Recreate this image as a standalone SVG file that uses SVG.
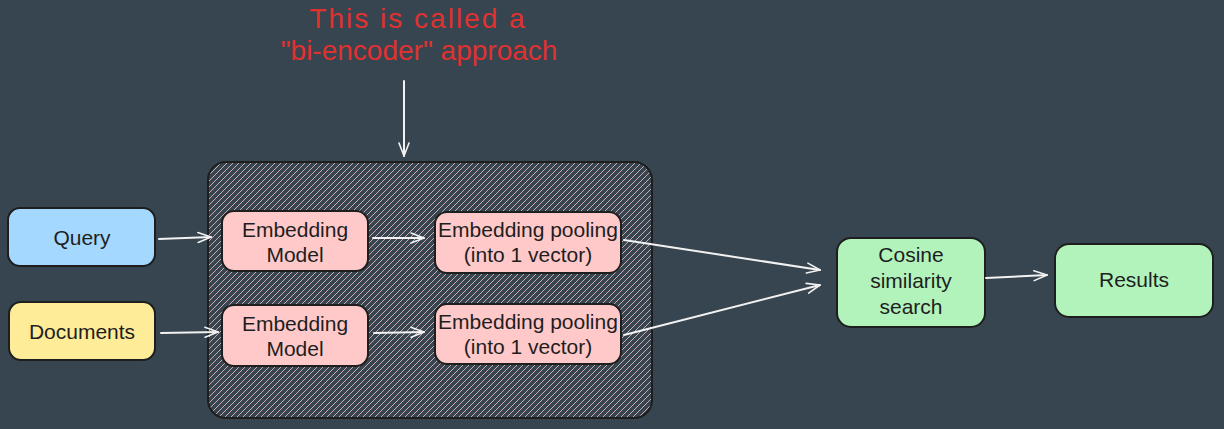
<svg xmlns="http://www.w3.org/2000/svg" width="1224" height="429" viewBox="0 0 1224 429">
  <defs>
    <pattern id="hatch" patternUnits="userSpaceOnUse" width="6" height="6">
      <path d="M-1,1 L1,-1 M0,6 L6,0 M5,7 L7,5" stroke="#dcb6b8" stroke-width="1" opacity="0.9"/>
    </pattern>
    <marker id="arr" markerWidth="16" markerHeight="12" refX="14" refY="6" orient="auto" markerUnits="userSpaceOnUse">
      <path d="M1,1 L14,6 L1,11" fill="none" stroke="#f2f2f2" stroke-width="1.6" stroke-linecap="round" stroke-linejoin="round"/>
    </marker>
    <style>
      .node { stroke: #1e1e1e; stroke-width: 2; }
      .blue { fill: #a5d8ff; }
      .yellow { fill: #ffec99; }
      .pink { fill: #ffc9c9; }
      .green { fill: #b2f2bb; }
      .lbl { font-family: "Liberation Sans", Arial, sans-serif; font-size: 21px; fill: #1e1e1e; text-anchor: middle; }
      .note { font-family: "Liberation Sans", Arial, sans-serif; font-size: 28px; fill: #e03131; text-anchor: middle; }
      .conn { fill: none; stroke: #f2f2f2; stroke-width: 2; stroke-linecap: round; marker-end: url(#arr); }
    </style>
  </defs>
  <rect x="0" y="0" width="1224" height="429" fill="#36454f"/>

  <g id="container">
    <rect x="208" y="162" width="444" height="256" rx="18" fill="url(#hatch)" class="node"/>
  </g>

  <g id="note">
    <text class="note" x="418" y="28" letter-spacing="2">This is called a</text>
    <text class="note" x="419" y="60">"bi-encoder" approach</text>
  </g>

  <g id="query">
    <rect x="8" y="208" width="147" height="58" rx="12" class="node blue"/>
    <text class="lbl" x="82" y="245">Query</text>
  </g>
  <g id="documents">
    <rect x="9" y="302" width="146" height="58" rx="12" class="node yellow"/>
    <text class="lbl" x="82" y="339">Documents</text>
  </g>

  <g id="embed1">
    <rect x="222" y="211" width="146" height="60" rx="12" class="node pink"/>
    <text class="lbl" x="295" y="237">Embedding</text>
    <text class="lbl" x="295" y="262">Model</text>
  </g>
  <g id="embed2">
    <rect x="222" y="305" width="146" height="61" rx="12" class="node pink"/>
    <text class="lbl" x="295" y="331">Embedding</text>
    <text class="lbl" x="295" y="356">Model</text>
  </g>

  <g id="pool1">
    <rect x="435" y="212" width="186" height="61" rx="12" class="node pink"/>
    <text class="lbl" x="528" y="237">Embedding pooling</text>
    <text class="lbl" x="528" y="262">(into 1 vector)</text>
  </g>
  <g id="pool2">
    <rect x="435" y="304" width="186" height="60" rx="12" class="node pink"/>
    <text class="lbl" x="528" y="329">Embedding pooling</text>
    <text class="lbl" x="528" y="354">(into 1 vector)</text>
  </g>

  <g id="cosine">
    <rect x="837" y="238" width="148" height="89" rx="14" class="node green"/>
    <text class="lbl" x="911" y="262">Cosine</text>
    <text class="lbl" x="911" y="288">similarity</text>
    <text class="lbl" x="911" y="314">search</text>
  </g>
  <g id="results">
    <rect x="1055" y="244" width="158" height="73" rx="14" class="node green"/>
    <text class="lbl" x="1134" y="287">Results</text>
  </g>

  <g id="connectors">
    <path class="conn" d="M404,81 L404,156"/>
    <path class="conn" d="M159,239 L211,237"/>
    <path class="conn" d="M161,333 L218,332"/>
    <path class="conn" d="M373,238 L424,238"/>
    <path class="conn" d="M374,333 L424,332"/>
    <path class="conn" d="M624,240 L820,270"/>
    <path class="conn" d="M624,335 L820,285"/>
    <path class="conn" d="M986,278 L1047,275"/>
  </g>
</svg>
